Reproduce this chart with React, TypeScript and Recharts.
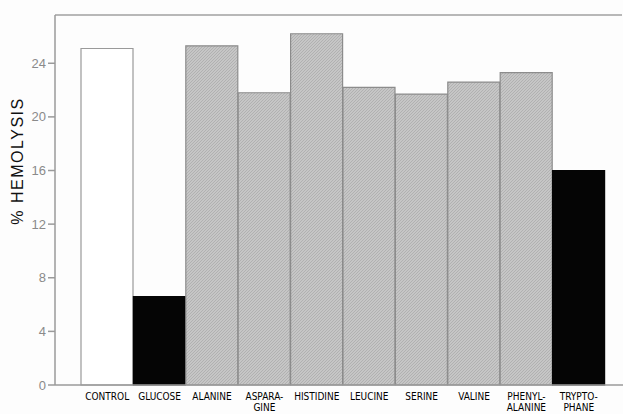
import React from "react";
import { BarChart, Bar, XAxis, YAxis, Cell, Label } from "recharts";

const categories = ["CONTROL", "GLUCOSE", "ALANINE", "ASPARAGINE", "HISTIDINE", "LEUCINE", "SERINE", "VALINE", "PHENYLALANINE", "TRYPTOPHANE"];
const tickLabels = [["CONTROL"], ["GLUCOSE"], ["ALANINE"], ["ASPARA-", "GINE"], ["HISTIDINE"], ["LEUCINE"], ["SERINE"], ["VALINE"], ["PHENYL-", "ALANINE"], ["TRYPTO-", "PHANE"]];
const hemolysis = [25.1, 6.6, 25.3, 21.8, 26.2, 22.2, 21.7, 22.6, 23.3, 16.0];
const groups = ["control", "protective", "none", "none", "none", "none", "none", "none", "none", "protective"];
const yTicks = [0, 4, 8, 12, 16, 20, 24];
const yMax = 27.6;

const CHART_W = 623;
const CHART_H = 414;
const MARGIN_TOP = 15;
const XAXIS_H = 29;

const data = categories.map((c, i) => ({ name: c, value: hemolysis[i], group: groups[i] }));

const groupFill: Record<string, string> = { control: "#ffffff", protective: "#050505", none: "url(#stipple)" };
const groupStroke: Record<string, string> = { control: "#9a9a9a", protective: "#050505", none: "#8c8c8c" };

const XTick = (props: any) => {
  const { x, y, payload } = props;
  const lines = tickLabels[payload.index] || [payload.value];
  return (
    <g>
      {lines.map((l: string, k: number) => (
        <text key={k} x={x} y={y + 7 + k * 11} textAnchor="middle" fontSize={10} fill="#000"
          style={{ fontFamily: "'DejaVu Sans Condensed', 'Liberation Sans Narrow', 'Liberation Sans', sans-serif", fontStretch: "condensed" }}>
          {l}
        </text>
      ))}
    </g>
  );
};

const TopFrame = (props: any) => {
  const vb = props.viewBox || {};
  const x0 = vb.x ?? 55;
  const x1 = x0 + (vb.width ?? 568) - 1;
  return <line x1={x0} x2={x1} y1={MARGIN_TOP} y2={MARGIN_TOP} stroke="#a0a0a0" strokeWidth={1.5} />;
};

export default function App() {
  return (
    <div style={{ position: "absolute", left: 0, top: 0, width: CHART_W, height: CHART_H, background: "#fdfdfd", overflow: "hidden" }}>
      <BarChart width={CHART_W} height={CHART_H} data={data} margin={{ top: MARGIN_TOP, right: 0, left: 0, bottom: 0 }} barCategoryGap={0}>
        <defs>
          <pattern id="stipple" patternUnits="userSpaceOnUse" width="3" height="3">
            <rect width="3" height="3" fill="#c6c6c6" />
            <path d="M0,3 L3,0" stroke="#acacac" strokeWidth="0.8" />
          </pattern>
        </defs>
        <XAxis dataKey="name" interval={0} tickLine={false} padding={{ left: 26, right: 18 }} height={XAXIS_H}
          axisLine={{ stroke: "#9a9a9a", strokeWidth: 1.5 }} tick={<XTick />}>
          <Label content={<TopFrame />} />
        </XAxis>
        <YAxis domain={[0, yMax]} ticks={yTicks} width={55} tickSize={7} tickMargin={2}
          axisLine={{ stroke: "#9a9a9a", strokeWidth: 1.5 }} tickLine={{ stroke: "#9a9a9a", strokeWidth: 1.5 }}
          tick={{ fill: "#8a8a8a", fontSize: 13, fontFamily: "'Liberation Sans', Arial, sans-serif" }}>
          <Label value="% HEMOLYSIS" position="insideLeft"
            content={() => (
              <text x={23} y={161} transform="rotate(-90 23 161)" textAnchor="middle" fontSize={16} fill="#111"
                letterSpacing={1.5}
                style={{ fontFamily: "'Liberation Sans', Arial, sans-serif" }}>% HEMOLYSIS</text>
            )} />
        </YAxis>
        <Bar dataKey="value" isAnimationActive={false}>
          {data.map((d, i) => (
            <Cell key={i} fill={groupFill[d.group]} stroke={groupStroke[d.group]} strokeWidth={1.2} />
          ))}
        </Bar>
      </BarChart>
    </div>
  );
}
